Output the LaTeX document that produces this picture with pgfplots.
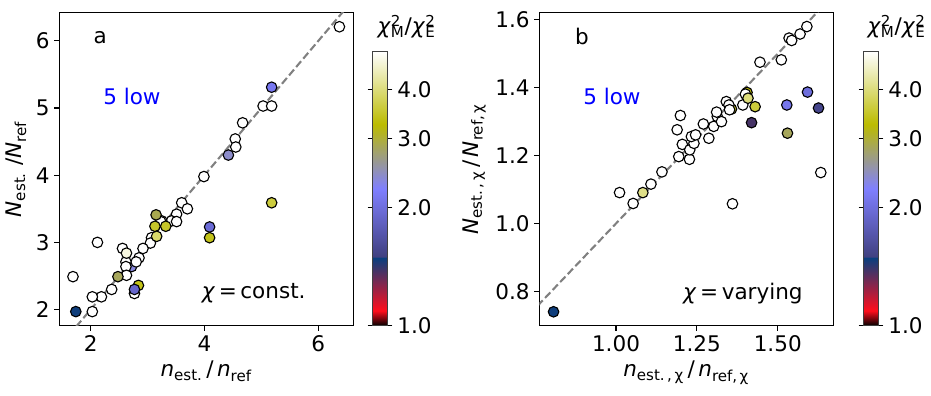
\documentclass[border=0pt]{standalone}
\usepackage{fontspec}
\setmainfont{DejaVu Sans}
\usepackage{pgfplots}
\pgfplotsset{compat=1.18}
\usepackage{pgfplotstable}

\newcommand\fs{\fontsize{15.5}{18}\selectfont}

% panel a: x, y, chi2 ratio (5 = white, top of scale)
\pgfplotstableread{
x y c
1.69 2.49 5
2.72 2.64 2.35
6.37 6.21 5
5.03 5.03 5
5.18 5.03 5
4.67 4.78 5
4.54 4.54 5
4.55 4.42 5
3.99 3.98 5
3.60 3.59 5
3.70 3.50 5
3.51 3.42 5
3.42 3.32 5
3.51 3.31 5
3.25 3.32 5
3.23 3.31 5
3.07 3.07 5
3.05 2.99 5
2.12 3.00 5
2.92 2.91 5
2.56 2.91 5
2.85 2.77 5
2.80 2.71 5
2.62 2.71 5
2.62 2.64 5
2.63 2.51 5
2.77 2.24 5
2.37 2.30 5
2.19 2.19 5
2.03 2.19 5
2.03 1.97 5
2.63 2.84 4.75
5.18 5.31 2.13
4.42 4.30 2.42
5.18 3.59 3.62
4.09 3.23 1.97
4.09 3.07 3.4
3.15 3.41 2.9
3.13 3.24 3.5
3.32 3.24 3.5
3.16 3.09 3.9
2.48 2.49 2.85
2.84 2.36 3.4
2.77 2.30 1.9
1.74 1.97 1.48
}\dataA

% panel b
\pgfplotstableread{
x y c
1.357 1.337 3.5
1.405 1.386 3.3
1.011 1.091 5
1.053 1.059 5
1.108 1.116 5
1.142 1.152 5
1.189 1.276 5
1.199 1.318 5
1.194 1.197 5
1.205 1.233 5
1.227 1.189 5
1.228 1.217 5
1.241 1.236 5
1.233 1.256 5
1.246 1.261 5
1.270 1.293 5
1.287 1.251 5
1.302 1.286 5
1.313 1.315 5
1.311 1.328 5
1.326 1.300 5
1.341 1.359 5
1.349 1.349 5
1.351 1.335 5
1.360 1.058 5
1.392 1.349 5
1.400 1.381 5
1.445 1.475 5
1.511 1.482 5
1.535 1.546 5
1.543 1.539 5
1.569 1.558 5
1.590 1.580 5
1.633 1.150 5
0.807 0.740 1.48
1.083 1.091 4.1
1.408 1.369 4.0
1.430 1.344 3.6
1.419 1.297 1.38
1.528 1.349 2.1
1.530 1.266 2.85
1.592 1.387 2.0
1.626 1.340 1.55
}\dataB

\pgfplotsset{
  colormap={gstern}{rgb(0pt)=(0,0,0); rgb(547pt)=(1,0.055,0.109);
    rgb(2490pt)=(0.03,0.249,0.498); rgb(2500pt)=(0.25,0.25,0.5);
    rgb(5000pt)=(0.5,0.5,1); rgb(7350pt)=(0.735,0.735,0); rgb(10000pt)=(1,1,1)},
  panel/.style={
    scale only axis, width=211.5pt, height=225.4pt, anchor=south west,
    axis line style={line width=0.8pt},
    tick align=outside, xtick pos=lower, ytick pos=left,
    major tick length=3.5pt, every tick/.style={black, line width=0.8pt},
    tick label style={font=\fs}, label style={font=\fs},
    /pgf/number format/assume math mode=true,
    clip mode=individual,
    colormap name=gstern, point meta min=0, point meta max=1.6094,
    colorbar,
    colorbar style={at={(parent axis.south east)}, anchor=south west,
      width=10.8pt, height=197.3pt,
      ytick={0,0.6931,1.0986,1.3863}, yticklabels={1.0,2.0,3.0,4.0},
      tick align=outside, major tick length=3.5pt,
      tick label style={font=\fs},
      axis line style={line width=0.6pt, draw=black!75},
      every tick/.style={black, line width=0.8pt}},
  },
  pts/.style={scatter, only marks, mark=*, mark size=3.8pt,
    mark options={line width=0.8pt},
    scatter/use mapped color={draw=black, fill=mapped color},
    point meta={ln(\thisrow{c})}},
  diag/.style={gray, line width=1.5pt, dash pattern=on 5.5pt off 2.4pt},
}

\begin{document}
\begin{tikzpicture}
\path[use as bounding box] (0,0) rectangle (670.3pt,284.4pt);

\begin{axis}[panel, at={(42.7pt,49.9pt)},
  xmin=1.45, xmax=6.61, ymin=1.76, ymax=6.42,
  xtick={2,4,6}, ytick={2,3,4,5,6},
  colorbar style={xshift=5.5pt},
  xlabel={\textit{n}\textsubscript{est.}\,/\,\textit{n}\textsubscript{ref}},
  ylabel={\textit{N}\textsubscript{est.}\ /\textit{N}\textsubscript{ref}}]
\addplot[diag] coordinates {(1 ,1) (7,7)};
\addplot[pts] table {\dataA};
\node[anchor=west, font=\fs] at (rel axis cs:0.1,0.92) {a};
\node[anchor=west, font=\fs, text=blue] at (rel axis cs:0.133,0.732) {5 low};
\node[anchor=east, font=\fs] at (rel axis cs:0.855,0.104) {\textit{χ}\,=\,const.};
\end{axis}

\begin{axis}[panel, at={(388.3pt,49.9pt)},
  xmin=0.763, xmax=1.671, ymin=0.699, ymax=1.621,
  xtick={1.00,1.25,1.50}, ytick={0.8,1.0,1.2,1.4,1.6},
  xticklabel style={/pgf/number format/.cd, fixed, fixed zerofill, precision=2},
  yticklabel style={/pgf/number format/.cd, fixed, fixed zerofill, precision=1},
  colorbar style={xshift=13.4pt},
  xlabel={\textit{n}\textsubscript{est.\,,\,χ}\,/\,\textit{n}\textsubscript{ref,\,χ}},
  ylabel={\textit{N}\textsubscript{est.\,,\,χ}\,/\,\textit{N}\textsubscript{ref,\,χ}}]
\addplot[diag] coordinates {(0.5,0.5) (2,2)};
\addplot[pts] table {\dataB};
\node[anchor=west, font=\fs] at (rel axis cs:0.105,0.923) {b};
\node[anchor=west, font=\fs, text=blue] at (rel axis cs:0.133,0.732) {5 low};
\node[anchor=east, font=\fs] at (rel axis cs:0.913,0.104) {\textit{χ}\,=\,varying};
\end{axis}

\node[anchor=west, font=\fs] at (268.3pt,265.2pt)
  {\textit{χ}\rlap{\textsuperscript{2}}\textsubscript{M}/\textit{χ}\rlap{\textsuperscript{2}}\textsubscript{E}};
\node[anchor=west, font=\fs] at (621.1pt,265.2pt)
  {\textit{χ}\rlap{\textsuperscript{2}}\textsubscript{M}/\textit{χ}\rlap{\textsuperscript{2}}\textsubscript{E}};
\end{tikzpicture}
\end{document}
